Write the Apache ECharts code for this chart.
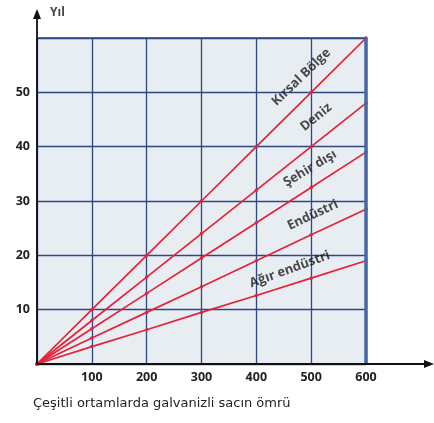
<!DOCTYPE html>
<html>
<head>
<meta charset="utf-8">
<script src="https://cdn.jsdelivr.net/npm/echarts@6/dist/echarts.min.js"></script>
<style>
html,body{margin:0;padding:0;background:#fff;}
#c{width:434px;height:423px;}
</style>
</head>
<body>
<div id="c"></div>
<script>
// Data
var xValues = [0, 100, 200, 300, 400, 500, 600];
var seriesNames = ['Kırsal Bölge', 'Deniz', 'Şehir dışı', 'Endüstri', 'Ağır endüstri'];
var kirsal = [0, 10, 20, 30, 40, 50, 60];
var deniz = [0, 8, 16, 24, 32, 40, 48];
var sehirDisi = [0, 6.5, 13, 19.5, 26, 32.5, 39];
var endustri = [0, 4.8, 9.5, 14.2, 19, 23.8, 28.5];
var agirEndustri = [0, 3.2, 6.3, 9.5, 12.6, 15.8, 19];
// label anchors (data coords) and angles
var labelX = [482, 509, 498, 503, 461];
var labelY = [52.8, 45.4, 36.0, 27.4, 17.4];
var labelAngle = [44, 39, 31, 25, 20];
var yTicks = [10, 20, 30, 40, 50];
var xTicks = [100, 200, 300, 400, 500, 600];
var axisTitle = 'Yıl';
var caption = 'Çeşitli ortamlarda galvanizli sacın ömrü';

var allSeries = [kirsal, deniz, sehirDisi, endustri, agirEndustri];
var red = '#e6223a';
var gridBlue = '#2c4786';
var font = '"Open Sans", "Noto Sans", sans-serif';

var chart = echarts.init(document.getElementById('c'));
var series = allSeries.map(function (vals, i) {
  return {
    name: seriesNames[i],
    type: 'line',
    data: vals.map(function (v, j) { return [xValues[j], v]; }),
    symbol: 'circle',
    symbolSize: 3.5,
    showSymbol: true,
    lineStyle: { color: red, width: 1.7 },
    itemStyle: { color: red },
    silent: true,
    z: 3
  };
});
series.push({
  type: 'scatter',
  symbolSize: 0,
  silent: true,
  z: 4,
  data: seriesNames.map(function (n, i) {
    return {
      value: [labelX[i], labelY[i]],
      label: {
        show: true, position: 'inside', formatter: n, rotate: labelAngle[i],
        fontSize: 13, fontWeight: 'bold', color: '#1b1b1b', fontFamily: font
      }
    };
  })
});

chart.setOption({
  animation: false,
  grid: {
    left: 37, top: 38, right: 68, bottom: 59,
    show: true, backgroundColor: '#e8edf2', borderColor: gridBlue, borderWidth: 1.3
  },
  xAxis: {
    type: 'value', min: 0, max: 600, interval: 100,
    axisLine: { show: false }, axisTick: { show: false },
    axisLabel: {
      margin: 7, fontSize: 12.5, fontWeight: 'bold', color: '#222', fontFamily: font,
      formatter: function (v) { return xTicks.indexOf(v) >= 0 ? String(v) : ''; }
    },
    splitLine: { show: true, lineStyle: { color: gridBlue, width: 1.3 } }
  },
  yAxis: {
    type: 'value', min: 0, max: 60, interval: 10,
    axisLine: { show: false }, axisTick: { show: false },
    axisLabel: {
      margin: 7, fontSize: 12.5, fontWeight: 'bold', color: '#222', fontFamily: font,
      formatter: function (v) { return yTicks.indexOf(v) >= 0 ? String(v) : ''; }
    },
    splitLine: { show: true, lineStyle: { color: gridBlue, width: 1.3 } }
  },
  series: series
});

var o = chart.convertToPixel({ gridIndex: 0 }, [0, 0]);
var tr = chart.convertToPixel({ gridIndex: 0 }, [600, 60]);
chart.setOption({
  graphic: [
    { type: 'line', shape: { x1: tr[0], y1: tr[1], x2: tr[0], y2: o[1] }, style: { stroke: '#4a67a5', lineWidth: 3.5 }, z: 5 },
    { type: 'line', shape: { x1: o[0], y1: o[1], x2: 428, y2: o[1] }, style: { stroke: '#111', lineWidth: 1.8 }, z: 6 },
    { type: 'polygon', shape: { points: [[434, o[1]], [424, o[1] - 4], [424, o[1] + 4]] }, style: { fill: '#111' }, z: 6 },
    { type: 'line', shape: { x1: o[0], y1: o[1], x2: o[0], y2: 16 }, style: { stroke: '#111', lineWidth: 1.8 }, z: 6 },
    { type: 'polygon', shape: { points: [[o[0], 9], [o[0] - 4, 19], [o[0] + 4, 19]] }, style: { fill: '#111' }, z: 6 },
    { type: 'text', left: 50, top: 7, style: { text: axisTitle, font: 'bold 12px ' + font, fill: '#444' } },
    { type: 'text', left: 33, top: 397, style: { text: caption, font: '13px "DejaVu Sans", sans-serif', fill: '#222' } }
  ]
});
</script>
</body>
</html>
